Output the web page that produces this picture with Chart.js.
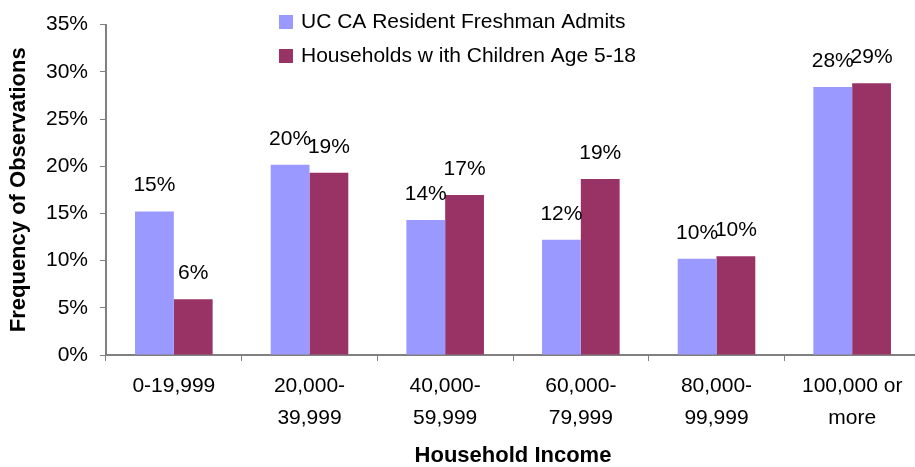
<!DOCTYPE html>
<html>
<head>
<meta charset="utf-8">
<script src="https://cdn.jsdelivr.net/npm/chart.js@4"></script>
<style>
  html, body { margin: 0; padding: 0; background: #fff; overflow: hidden; }
  #wrap { width: 922px; height: 467px; }
</style>
</head>
<body>
<div id="wrap"><canvas id="incomeChart"></canvas></div>
<script>
const categories = [
    '0-19,999',
    ['20,000-', '39,999'],
    ['40,000-', '59,999'],
    ['60,000-', '79,999'],
    ['80,000-', '99,999'],
    ['100,000 or', 'more']
];
const admitsLabel = 'UC CA Resident Freshman Admits';
const householdsLabel = 'Households w ith Children Age 5-18';
const admitsValues = [15.2, 20.15, 14.3, 12.2, 10.2, 28.4];
const householdsValues = [5.9, 19.3, 16.95, 18.65, 10.45, 28.8];

const FONT = 'Arial, "Liberation Sans", sans-serif';

// value labels above each bar
const barLabels = {
    id: 'barLabels',
    afterDatasetsDraw(chart) {
        const c = chart.ctx;
        c.save();
        c.font = '21px ' + FONT;
        c.fillStyle = '#000';
        c.textAlign = 'center';
        c.textBaseline = 'middle';
        chart.data.datasets.forEach((ds, i) => {
            chart.getDatasetMeta(i).data.forEach((bar, j) => {
                c.fillText(Math.round(ds.data[j]) + '%', bar.x, bar.y - 26);
            });
        });
        c.restore();
    }
};

// stacked legend in the top area
const stackedLegend = {
    id: 'stackedLegend',
    afterDraw(chart) {
        const c = chart.ctx;
        c.save();
        c.font = '21px ' + FONT;
        c.textBaseline = 'middle';
        c.textAlign = 'left';
        chart.data.datasets.forEach((ds, i) => {
            const y = 22 + i * 34;
            c.fillStyle = ds.backgroundColor;
            c.fillRect(279, y - 7, 14, 14);
            c.fillStyle = '#000';
            c.fillText(ds.label, 301, y);
        });
        c.restore();
    }
};

const ctx = document.getElementById('incomeChart').getContext('2d');
new Chart(ctx, {
    type: 'bar',
    data: {
        labels: categories,
        datasets: [
            { label: admitsLabel, data: admitsValues, backgroundColor: '#9999FF' },
            { label: householdsLabel, data: householdsValues, backgroundColor: '#993366' }
        ]
    },
    options: {
        responsive: true,
        maintainAspectRatio: false,
        animation: false,
        layout: { padding: { top: 15, right: 2, bottom: 0, left: 0 } },
        datasets: { bar: { categoryPercentage: 0.572, barPercentage: 1.0 } },
        scales: {
            x: {
                grid: { display: true, drawOnChartArea: false, offset: true, tickLength: 6, color: '#808080' },
                border: { color: '#808080', width: 2 },
                ticks: { color: '#000', font: { size: 21, family: FONT, lineHeight: 1.52 }, padding: 9, maxRotation: 0, autoSkip: false },
                title: { display: true, text: 'Household Income', color: '#000', font: { size: 22, weight: 'bold', family: FONT, lineHeight: 1 }, padding: { top: 4, bottom: 0 } },
                afterFit: s => { s.height = 112; }
            },
            y: {
                min: 0,
                max: 35,
                grid: { display: true, drawOnChartArea: false, tickLength: 6, color: '#808080' },
                border: { color: '#808080', width: 2 },
                ticks: { stepSize: 5, color: '#000', font: { size: 21, family: FONT }, padding: 12, callback: v => v + '%' },
                title: { display: true, text: 'Frequency of Observations', color: '#000', font: { size: 22, weight: 'bold', family: FONT }, padding: { top: 6, bottom: 4 } },
                afterFit: s => { s.width = 106; }
            }
        },
        plugins: {
            legend: { display: false },
            tooltip: { enabled: false }
        }
    },
    plugins: [barLabels, stackedLegend]
});
</script>
</body>
</html>
